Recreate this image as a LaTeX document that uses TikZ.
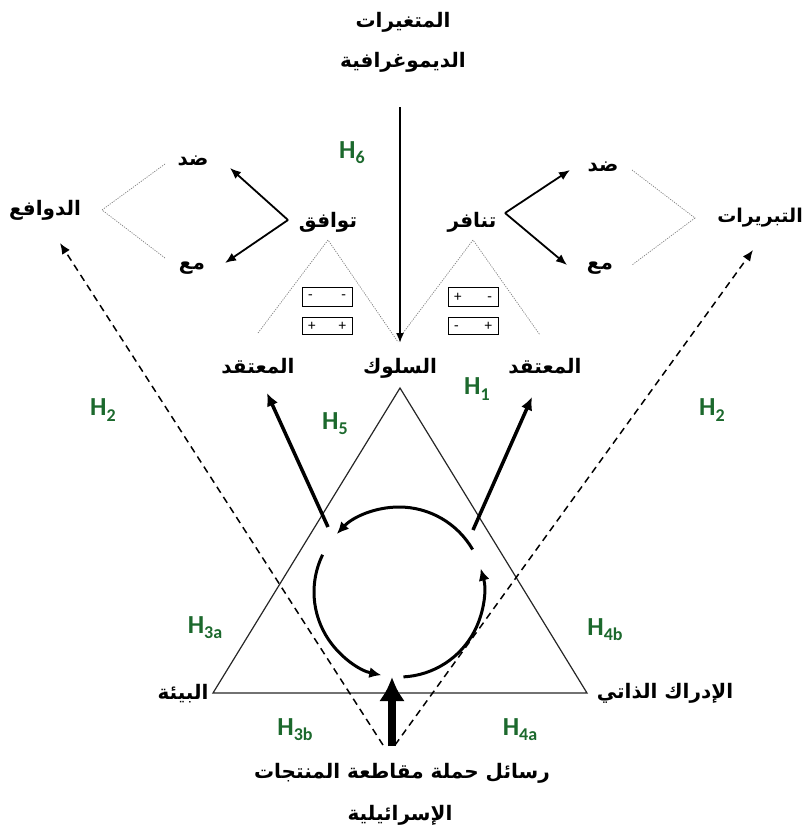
\documentclass[tikz,border=0pt]{standalone}
\usepackage{fontspec}
\newfontfamily\arabicfont[Script=Arabic]{DejaVu Sans}
\newfontfamily\hfont{Carlito}
\TeXXeTstate=1
\usetikzlibrary{arrows.meta}
\definecolor{hgreen}{RGB}{28,105,45}
\newcommand\hlab[1]{H\raisebox{-0.2em}{\fontsize{18}{20}\selectfont #1}}
\newcommand\artext[1]{\beginR #1\endR}
\tikzset{
  ar/.style={font=\arabicfont\bfseries\fontsize{20}{24}\selectfont, inner sep=1pt},
  hyp/.style={font=\hfont\bfseries\fontsize{26}{30}\selectfont, text=hgreen, inner sep=1pt},
  dotl/.style={gray, line width=0.7pt, dash pattern=on 1.2pt off 1.2pt},
  dashl/.style={line width=1.5pt, dash pattern=on 7pt off 5pt, -{Latex[length=11pt,width=9pt]}},
  thinarr/.style={line width=1.8pt, -{Latex[length=11pt,width=9pt]}},
  thickarr/.style={line width=3.5pt, -{Latex[length=13pt,width=12pt]}},
  cycarr/.style={line width=3pt, -{Latex[length=12pt,width=11pt]}},
  sbox/.style={draw, line width=1pt, minimum width=50pt, minimum height=19pt, inner sep=0pt, font=\hfont\fontsize{15}{16}\selectfont},
  tri/.style={black!85, line width=1.2pt}
}
\begin{document}
\begin{tikzpicture}[x=1pt,y=-1pt]
\useasboundingbox (0,0) rectangle (808,835);
% texts
\node[ar] (title1) at (403,22) {\artext{المتغيرات}};
\node[ar] (title2) at (403,62) {\artext{الديموغرافية}};
\node[ar] (beh) at (400,368) {\artext{السلوك}};
\node[ar] (believeL) at (258,366) {\artext{المعتقد}};
\node[ar] (believeR) at (545,366) {\artext{المعتقد}};
\node[ar] (env) at (183,694) {\artext{البيئة}};
\node[ar] (self) at (665,693) {\artext{الإدراك الذاتي}};
\node[ar] (msg1) at (402,773) {\artext{رسائل حملة مقاطعة المنتجات}};
\node[ar] (msg2) at (400,815) {\artext{الإسرائيلية}};
\node[ar] (motiv) at (45,210) {\artext{الدوافع}};
\node[ar, anchor=east, font=\arabicfont\bfseries\fontsize{19}{24}\selectfont] (justif) at (804,218) {\artext{التبريرات}};
\node[ar] (agree) at (328,222) {\artext{توافق}};
\node[ar] (conflict) at (472,222) {\artext{تنافر}};
\node[ar] (againstL) at (193,161) {\artext{ضد}};
\node[ar] (withL) at (192,268) {\artext{مع}};
\node[ar] (againstR) at (603,167) {\artext{ضد}};
\node[ar] (withR) at (600,268) {\artext{مع}};
% hypotheses
\node[hyp] (h6) at (352,153) {\hlab{6}};
\node[hyp] (h1) at (477,389) {\hlab{1}};
\node[hyp] (h5) at (335,424) {\hlab{5}};
\node[hyp] (h2l) at (103,410) {\hlab{2}};
\node[hyp] (h2r) at (712,410) {\hlab{2}};
\node[hyp] (h3a) at (205,628) {\hlab{3a}};
\node[hyp] (h4b) at (605,630) {\hlab{4b}};
\node[hyp] (h3b) at (295,730) {\hlab{3b}};
\node[hyp] (h4a) at (520,730) {\hlab{4a}};
% sign boxes
\node[sbox] (bL1) at (327,297) {\makebox[38pt]{-\hfill-}};
\node[sbox, minimum height=17pt] (bL2) at (327,326) {\makebox[38pt]{+\hfill+}};
\node[sbox] (bR1) at (473,297) {\makebox[38pt]{+\hfill-}};
\node[sbox, minimum height=17pt] (bR2) at (473,326) {\makebox[38pt]{-\hfill+}};
% coordinates
\coordinate (top) at (400,388);
\coordinate (bl) at (213,693);
\coordinate (br) at (587,693);
\coordinate (v1) at (400,107);
\coordinate (v2) at (400,343);
\coordinate (dl0) at (383,745);
\coordinate (dl1) at (60,243);
\coordinate (dr0) at (395,745);
\coordinate (dr1) at (753,250);
\coordinate (al0) at (328,527);
\coordinate (al1) at (267,393);
\coordinate (ar0) at (473,530);
\coordinate (ar1) at (532,397);
\coordinate (up0) at (392,746);
\coordinate (up1) at (392,677);
\coordinate (cc) at (399,592);
\coordinate (lv) at (288,220);
\coordinate (lt) at (230,168);
\coordinate (lb) at (225,263);
\coordinate (rv) at (505,213);
\coordinate (rt) at (570,170);
\coordinate (rb) at (567,265);
\coordinate (mv) at (102,210);
\coordinate (mt) at (165,164);
\coordinate (mb) at (165,258);
\coordinate (jv) at (695,218);
\coordinate (jt) at (632,170);
\coordinate (jb) at (632,265);
\coordinate (ta) at (328,240);
\coordinate (tal) at (258,333);
\coordinate (tar) at (398,342);
\coordinate (tc) at (473,240);
\coordinate (tcl) at (403,333);
\coordinate (tcr) at (540,335);
% triangle
\draw[tri] (top) -- (bl) -- (br) -- cycle;
% dotted
\draw[dotl] (mt) -- (mv) -- (mb);
\draw[dotl] (jt) -- (jv) -- (jb);
\draw[dotl] (tal) -- (ta) -- (tar);
\draw[dotl] (tcl) -- (tc) -- (tcr);
% thin arrows
\draw[thinarr] (lv) -- (lt);
\draw[thinarr] (lv) -- (lb);
\draw[thinarr] (rv) -- (rt);
\draw[thinarr] (rv) -- (rb);
\draw[line width=1.8pt, -{Latex[length=10pt,width=8pt]}] (v1) -- (v2);
% dashed
\draw[dashl] (dl0) -- (dl1);
\draw[dashl] (dr0) -- (dr1);
% thick arrows
\draw[thickarr] (al0) -- (al1);
\draw[thickarr] (ar0) -- (ar1);
\draw[line width=8pt, -{Latex[length=24pt,width=26pt]}] (up0) -- (up1);
% cycle
\draw[cycarr] (cc) ++(-30:85) arc[start angle=-30, end angle=-137, radius=85];
\draw[cycarr] (cc) ++(-154:85) arc[start angle=-154, end angle=-258, radius=85];
\draw[cycarr] (cc) ++(-273:85) arc[start angle=-273, end angle=-376, radius=85];
\end{tikzpicture}
\end{document}
